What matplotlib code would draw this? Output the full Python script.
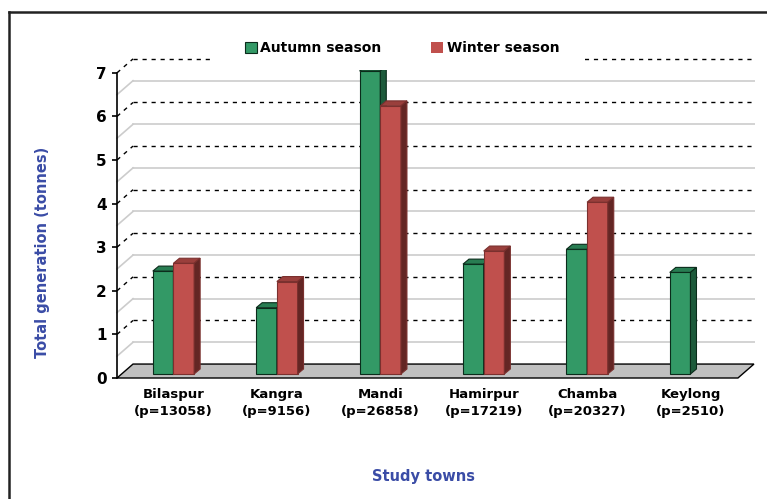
import matplotlib.pyplot as plt
import numpy as np
from matplotlib.patches import Polygon, Rectangle
from matplotlib.lines import Line2D

towns = ['Bilaspur', 'Kangra', 'Mandi', 'Hamirpur', 'Chamba', 'Keylong']
population = ['13058', '9156', '26858', '17219', '20327', '2510']
autumn = [2.36, 1.52, 6.95, 2.52, 2.86, 2.33]
winter = [2.54, 2.12, 6.15, 2.82, 3.94, np.nan]

green = {'front': '#339966', 'side': '#1d5a3b', 'top': '#287d52', 'edge': '#0b2b1b'}
red = {'front': '#c0504d', 'side': '#632624', 'top': '#9a3f3c', 'edge': '#7a302e'}
blue = '#3a4ca6'

fig = plt.figure(figsize=(7.67, 4.99), dpi=100)
W, H = 767, 499
ax = fig.add_axes([117 / W, (H - 378) / H, (755 - 117) / W, 322.6 / H])

xmin, xmax = -0.546, 5.624
ax.set_xlim(xmin, xmax)
ax.set_ylim(0, 7.4)

# 3D offsets (data units)
dx, dy = 0.155, 0.32          # back wall
bdx, bdy = 0.058, 0.115       # bar depth
y0 = 0.092                    # bar base
w = 0.2
xfr = 5.459                   # front right of floor

# walls: gridlines
for v in np.arange(0, 7.01, 0.5):
    if v == 0:
        continue
    if v % 1 == 0:
        kw = dict(color='black', lw=1.0, ls=(0, (3, 3.5)))
    else:
        kw = dict(color='#cccccc', lw=1.2, ls='-')
    ax.plot([xmin + dx, xmax], [v + dy, v + dy], zorder=1, **kw)
    ax.plot([xmin, xmin + dx], [v, v + dy], zorder=1, clip_on=False, **kw)

# floor
ax.add_patch(Polygon([(xmin, 0), (xfr, 0), (xfr + dx, dy), (xmin + dx, dy)],
                     closed=True, facecolor='#c0c0c0', edgecolor='black', lw=1.0,
                     zorder=2, clip_on=False))

# legend backdrop covering top gridline
ax.add_patch(Rectangle((0.150, 0.955), 0.584, 0.12, transform=ax.transAxes,
                       facecolor='white', edgecolor='none', zorder=4, clip_on=False))


def bar3d(xc, h, c, z):
    if np.isnan(h):
        return
    xl, xr = xc - w / 2, xc + w / 2
    yb, yt = y0, y0 + h
    ax.bar(xc, h, w, bottom=yb, color=c['front'], edgecolor=c['edge'], lw=0.8, zorder=z)
    ax.add_patch(Polygon([(xl, yt), (xr, yt), (xr + bdx, yt + bdy), (xl + bdx, yt + bdy)],
                         closed=True, facecolor=c['top'], edgecolor=c['edge'], lw=0.8, zorder=z))
    ax.add_patch(Polygon([(xr, yb), (xr + bdx, yb + bdy), (xr + bdx, yt + bdy), (xr, yt)],
                         closed=True, facecolor=c['side'], edgecolor=c['edge'], lw=0.8, zorder=z))


x = np.arange(len(towns))
for i in x:
    bar3d(i - w / 2, autumn[i], green, 3)
    bar3d(i + w / 2, winter[i], red, 3.1)

# axes styling
for s in ['top', 'right', 'bottom']:
    ax.spines[s].set_visible(False)
ax.spines['left'].set_bounds(0, 7)
ax.spines['left'].set_linewidth(1.2)
ax.spines['left'].set_zorder(5)
ax.set_yticks(range(8))
ax.tick_params(axis='y', length=3.5, width=1.2, pad=4, labelsize=11)
for t in ax.get_yticklabels():
    t.set_fontweight('bold')
ax.set_xticks(x)
ax.set_xticklabels([f'{t}\n(p={p})' for t, p in zip(towns, population)],
                   fontsize=9.5, fontweight='bold', linespacing=1.45)
ax.tick_params(axis='x', length=0, pad=7)

fig.text(43 / W, 1 - 252 / H, 'Total generation (tonnes)', rotation=90, ha='center',
         va='center', color=blue, fontsize=10.5, fontweight='bold')
fig.text(423 / W, 1 - 476 / H, 'Study towns', ha='center', va='center',
         color=blue, fontsize=10.5, fontweight='bold')

handles = [Rectangle((0, 0), 1, 1, facecolor=green['front'], edgecolor=green['edge'], lw=0.8),
           Rectangle((0, 0), 1, 1, facecolor=red['front'], edgecolor='none')]
leg = fig.legend(handles, ['Autumn season', 'Winter season'], loc='center',
                 bbox_to_anchor=(402 / W, 1 - 48 / H), ncol=2, frameon=False,
                 prop={'weight': 'bold', 'size': 10}, handlelength=0.85, handleheight=0.85,
                 handletextpad=0.25, columnspacing=3.6)
leg.set_zorder(6)

# outer frame (top and left)
fig.add_artist(Line2D([9 / W, 1], [1 - 11.5 / H, 1 - 11.5 / H], color='#222222', lw=1.8))
fig.add_artist(Line2D([9 / W, 9 / W], [0, 1 - 11.5 / H], color='#222222', lw=1.8))

fig.savefig('out.png', dpi=100)
